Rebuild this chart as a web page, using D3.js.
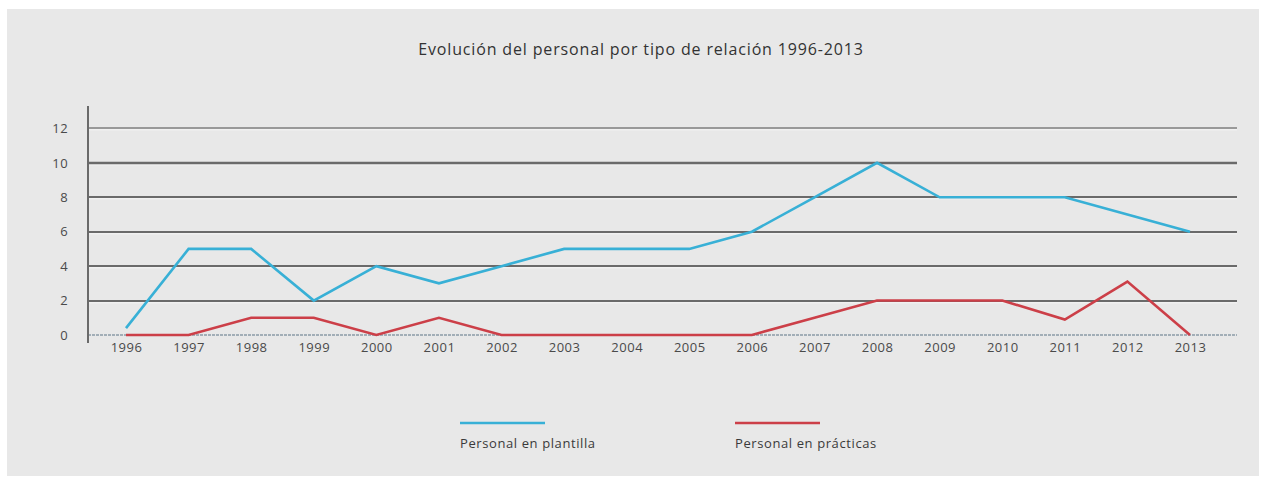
<!DOCTYPE html>
<html>
<head>
<meta charset="utf-8">
<script src="https://cdn.jsdelivr.net/npm/d3@7"></script>
<style>
  html, body { margin: 0; padding: 0; background: #ffffff; }
  svg { display: block; }
  text { font-family: "Open Sans", "DejaVu Sans", sans-serif; }
</style>
</head>
<body>
<svg id="chart" width="1266" height="483"></svg>
<script>
const years = ["1996","1997","1998","1999","2000","2001","2002","2003","2004","2005","2006","2007","2008","2009","2010","2011","2012","2013"];
const plantilla = [0.4, 5, 5, 2, 4, 3, 4, 5, 5, 5, 6, 8, 10, 8, 8, 8, 7, 6];
const practicas = [0, 0, 1, 1, 0, 1, 0, 0, 0, 0, 0, 1, 2, 2, 2, 0.9, 3.1, 0];
const yTicks = [0, 2, 4, 6, 8, 10, 12];
const seriesNames = ["Personal en plantilla", "Personal en prácticas"];
const titleText = "Evolución del personal por tipo de relación 1996-2013";

const svg = d3.select("#chart");

// panel background
svg.append("rect").attr("x", 7).attr("y", 9).attr("width", 1252).attr("height", 467).attr("fill", "#e8e8e8");

const x = d3.scalePoint().domain(years).range([126, 1190]);
const y = d3.scaleLinear().domain([0, 12]).range([335, 128.4]);
const gridLeft = 88, gridRight = 1237;

// title
svg.append("text")
  .attr("x", 641).attr("y", 55)
  .attr("text-anchor", "middle")
  .attr("font-size", 16)
  .attr("letter-spacing", 0.85)
  .attr("fill", "#333333")
  .text(titleText);

// grid lines
const gridG = svg.append("g");
yTicks.filter(t => t > 0).forEach(t => {
  const yy = Math.round(y(t));
  gridG.append("line")
    .attr("x1", gridLeft).attr("x2", gridRight)
    .attr("y1", yy + 1.8).attr("y2", yy + 1.8)
    .attr("stroke", "#f6f6f6").attr("stroke-width", 1);
  gridG.append("line")
    .attr("x1", gridLeft).attr("x2", gridRight)
    .attr("y1", yy).attr("y2", yy)
    .attr("stroke", t === 12 ? "#999999" : "#6a6a6a")
    .attr("stroke-width", t === 10 ? 2.6 : 2.1);
});
// zero line (dotted)
gridG.append("line")
  .attr("x1", gridLeft).attr("x2", gridRight)
  .attr("y1", y(0)).attr("y2", y(0))
  .attr("stroke", "#8a9aa6").attr("stroke-width", 1.5)
  .attr("stroke-dasharray", "3,1");

// y axis line
svg.append("line")
  .attr("x1", gridLeft).attr("x2", gridLeft)
  .attr("y1", 106).attr("y2", 343)
  .attr("stroke", "#6a6a6a").attr("stroke-width", 2);

// y axis labels
const yAxis = d3.axisLeft(y).tickValues(yTicks).tickSize(0).tickPadding(0);
const yg = svg.append("g").attr("transform", "translate(68,0)").call(yAxis);
yg.select(".domain").remove();
yg.selectAll("text").attr("font-size", 13).attr("letter-spacing", 0.4).attr("fill", "#4a4a4a")
  .attr("font-family", "\"Open Sans\", sans-serif");

// x axis labels
const xAxis = d3.axisBottom(x).tickSize(0).tickPadding(0);
const xg = svg.append("g").attr("transform", "translate(0,343)").call(xAxis);
xg.select(".domain").remove();
xg.selectAll("text").attr("font-size", 13).attr("letter-spacing", 0.5).attr("fill", "#4a4a4a")
  .attr("font-family", "\"Open Sans\", sans-serif");

// lines
const line = d3.line().x((d, i) => x(years[i])).y(d => y(d));
const colors = ["#38b0d6", "#cc3f48"];
[plantilla, practicas].forEach((s, i) => {
  svg.append("path").datum(s)
    .attr("d", line)
    .attr("fill", "none")
    .attr("stroke", colors[i])
    .attr("stroke-width", 2.6)
    .attr("stroke-linejoin", "miter");
});

// legend
const legendX = [460, 735];
seriesNames.forEach((n, i) => {
  svg.append("line")
    .attr("x1", legendX[i]).attr("x2", legendX[i] + 85)
    .attr("y1", 423).attr("y2", 423)
    .attr("stroke", colors[i]).attr("stroke-width", 2.5);
  svg.append("text")
    .attr("x", legendX[i]).attr("y", 448)
    .attr("font-size", 13).attr("letter-spacing", 0.6).attr("fill", "#3a3a3a")
    .text(n);
});
</script>
</body>
</html>
